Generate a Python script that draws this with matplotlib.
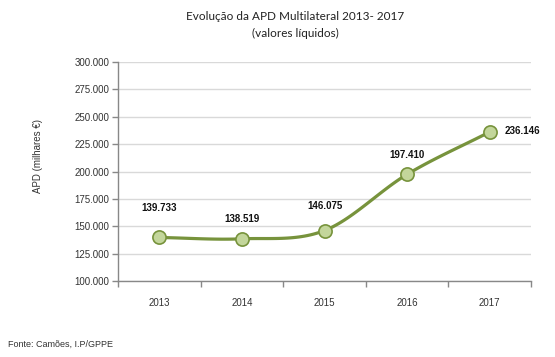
import numpy as np
import matplotlib.pyplot as plt
from matplotlib.ticker import FuncFormatter

years = ["2013", "2014", "2015", "2016", "2017"]
apd = [139.733, 138.519, 146.075, 197.410, 236.146]
labels = ["139.733", "138.519", "146.075", "197.410", "236.146"]

# label offsets in points (dx, dy)
label_offsets = [(0, 21), (0, 14), (0, 18), (0, 14), (11, 1)]

line_color = "#77933C"
marker_fill = "#C3D69B"


def smooth(xs, ys, n=30):
    # Catmull-Rom style smoothing, similar to Excel's smoothed line
    xs = np.asarray(xs, float)
    ys = np.asarray(ys, float)
    px = np.concatenate([[2 * xs[0] - xs[1]], xs, [2 * xs[-1] - xs[-2]]])
    py = np.concatenate([[2 * ys[0] - ys[1]], ys, [2 * ys[-1] - ys[-2]]])
    out_x, out_y = [], []
    t = np.linspace(0, 1, n)
    for i in range(1, len(px) - 2):
        for p, out in ((px, out_x), (py, out_y)):
            p0, p1, p2, p3 = p[i - 1], p[i], p[i + 1], p[i + 2]
            seg = 0.5 * ((2 * p1) + (-p0 + p2) * t
                         + (2 * p0 - 5 * p1 + 4 * p2 - p3) * t ** 2
                         + (-p0 + 3 * p1 - 3 * p2 + p3) * t ** 3)
            out.extend(seg)
    return np.array(out_x), np.array(out_y)


fig = plt.figure(figsize=(5.55, 3.57), dpi=100)
ax = fig.add_axes([0.2126, 0.2129, 0.7442, 0.6134])

x = np.arange(1, len(years) + 1)
sx, sy = smooth(x, apd)
ax.plot(sx, sy, color=line_color, linewidth=2.3, solid_capstyle="round", zorder=3)
ax.plot(x, apd, "o", markersize=9.5, markerfacecolor=marker_fill,
        markeredgecolor=line_color, markeredgewidth=1.2, zorder=4)

for i, (xi, yi, lab) in enumerate(zip(x, apd, labels)):
    dx, dy = label_offsets[i]
    ax.annotate(lab, (xi, yi), xytext=(dx, dy), textcoords="offset points",
                ha="left" if dx else "center", va="center", fontsize=7,
                fontweight="bold", family="Liberation Sans", color="#111111")

ax.set_xlim(0.5, len(years) + 0.5)
ax.set_ylim(100, 300)
ax.set_yticks(np.arange(100, 301, 25))
ax.yaxis.set_major_formatter(FuncFormatter(lambda v, p: f"{int(v)}.000"))
ax.set_xticks(x)
ax.set_xticklabels(years)
ax.set_xticks(np.arange(0.5, len(years) + 1, 1), minor=True)
ax.tick_params(axis="x", which="major", length=0, pad=12)
ax.tick_params(axis="x", which="minor", length=4, color="#888888", width=1)
ax.tick_params(axis="y", length=4, color="#888888", width=1, pad=2)
for lab in ax.get_xticklabels() + ax.get_yticklabels():
    lab.set_family("Liberation Sans")
    lab.set_fontsize(7)
    lab.set_color("#333333")

ax.grid(axis="y", color="#D9D9D9", linewidth=1)
ax.set_axisbelow(True)
for s in ["top", "right"]:
    ax.spines[s].set_visible(False)
for s in ["left", "bottom"]:
    ax.spines[s].set_color("#888888")
    ax.spines[s].set_linewidth(1)

ax.set_ylabel("APD (milhares €)", fontsize=7, family="Liberation Sans",
              color="#333333")
ax.yaxis.set_label_coords(-0.182, 0.571)

fig.text(0.532, 0.955, "Evolução da APD Multilateral 2013- 2017",
         ha="center", va="center", fontsize=8.5, family="Lato", color="#222222")
fig.text(0.532, 0.905, "(valores líquidos)",
         ha="center", va="center", fontsize=8.5, family="Lato", color="#222222")
fig.text(0.015, 0.035, "Fonte: Camões, I.P/GPPE", ha="left", va="center",
         fontsize=6.5, family="Liberation Sans", color="#333333")

fig.savefig("out.png", dpi=100)
